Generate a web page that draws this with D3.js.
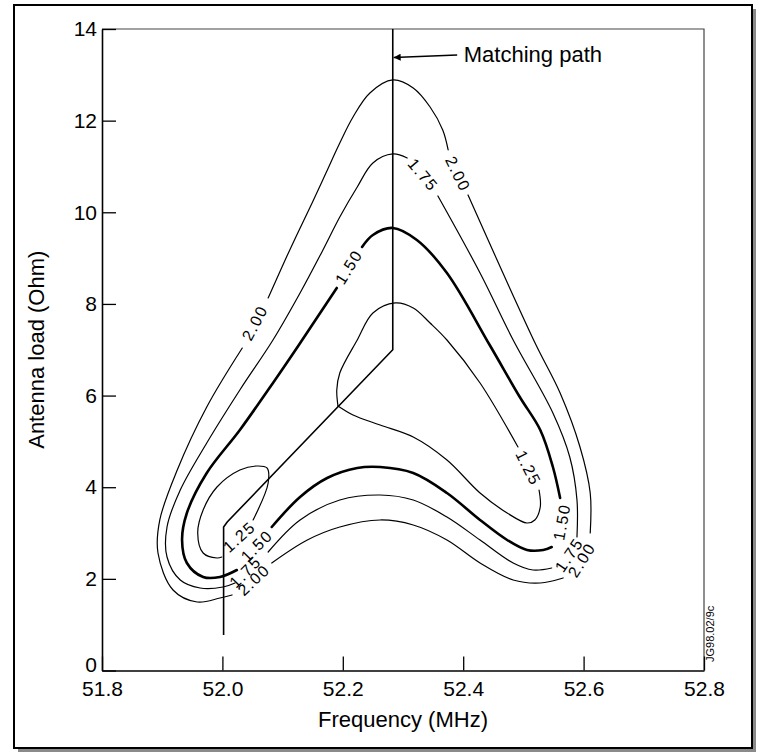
<!DOCTYPE html>
<html>
<head>
<meta charset="utf-8">
<script src="https://cdn.jsdelivr.net/npm/d3@7"></script>
<style>
  html, body { margin: 0; padding: 0; background: #fff; }
  svg { display: block; font-family: "Liberation Sans", Arial, Helvetica, sans-serif; }
</style>
</head>
<body>
<svg id="chart" width="757" height="753"></svg>
<script>
// Axis ticks
const xTicks = [51.8, 52.0, 52.2, 52.4, 52.6, 52.8];
const yTicks = [0, 2, 4, 6, 8, 10, 12, 14];

// Contour pieces: [frequency (MHz), antenna load (Ohm)]; gaps are left for the labels
const contour200 = [
  [[52.016,1.648],[51.996,1.582],[51.958,1.495],[51.918,1.757],[51.893,2.564],[51.896,3.285],
   [51.925,4.376],[51.974,5.751],[52.033,7.038]],
  [[52.076,8.130],[52.099,8.806],[52.122,9.461],[52.149,10.203],[52.172,10.858],[52.195,11.513],
   [52.217,12.080],[52.245,12.604],[52.283,12.888],[52.317,12.713],[52.345,12.298],[52.366,11.796],
   [52.375,11.360]],
  [[52.408,10.378],[52.466,8.675],[52.521,7.104],[52.561,6.056],[52.594,4.878],[52.611,3.874],
   [52.611,3.001]],
  [[52.566,2.019],[52.528,1.910],[52.483,1.975],[52.428,2.346],[52.373,2.848],[52.317,3.176],
   [52.262,3.285],[52.195,3.132],[52.141,2.848],[52.082,2.346]]
];
const contour175 = [
  [[52.021,1.910],[52.001,1.822],[51.963,1.801],[51.930,1.975],[51.908,2.477],[51.908,3.132],
   [51.930,3.939],[51.974,4.965],[52.029,6.122],[52.084,7.213],[52.129,8.239],[52.167,9.178],
   [52.195,9.898],[52.224,10.552],[52.250,11.076],[52.283,11.273],[52.307,11.185]],
  [[52.358,10.356],[52.428,8.675],[52.483,7.213],[52.549,5.620],[52.577,4.660],[52.589,3.721],
   [52.589,2.914]],
  [[52.547,2.237],[52.516,2.193],[52.483,2.346],[52.428,2.848],[52.373,3.350],[52.317,3.721],
   [52.262,3.830],[52.195,3.721],[52.129,3.285],[52.076,2.586]]
];
const contour150 = [
  [[52.024,2.193],[51.996,2.041],[51.968,2.041],[51.941,2.346],[51.933,2.848],[51.941,3.437],
   [51.974,4.310],[52.029,5.249],[52.084,6.275],[52.127,7.104],[52.190,8.348]],
  [[52.232,9.243],[52.250,9.505],[52.283,9.658],[52.323,9.396],[52.373,8.675],[52.444,7.104],
   [52.494,5.969],[52.528,5.249],[52.549,4.441],[52.561,3.765]],
  [[52.547,2.695],[52.533,2.630],[52.506,2.630],[52.473,2.848],[52.428,3.285],[52.373,3.874],
   [52.317,4.310],[52.262,4.441],[52.224,4.420],[52.174,4.201],[52.129,3.787],[52.082,3.132]]
];
const contour125 = [
  [[52.526,3.939],[52.528,3.568],[52.519,3.285],[52.506,3.219],[52.473,3.437],[52.428,3.874],
   [52.373,4.594],[52.317,5.096],[52.262,5.358],[52.217,5.576],[52.192,5.773]],
  [[52.192,5.773],[52.190,6.122],[52.195,6.493],[52.224,7.213],[52.250,7.802],[52.287,8.021],
   [52.317,7.912],[52.345,7.584],[52.373,7.213],[52.428,6.275],[52.491,4.878]],
  [[52.051,3.285],[52.076,4.092],[52.074,4.420],[52.057,4.463],[52.029,4.376],[51.991,4.005],
   [51.968,3.503],[51.959,3.001],[51.968,2.564],[51.991,2.455],[51.999,2.477]]
];
const matchingPath = [[52.283,14],[52.283,7.0],[52.008,3.241],[52.002,3.132],[52.002,0.775]];

// Contour labels: text, frequency, load, rotation (degrees)
const contourLabels = [
  ["2.00", 52.054, 7.584, -62], ["2.00", 52.391, 10.836, 64], ["2.00", 52.597, 2.412, -58],
  ["2.00", 52.052, 1.975, -43],
  ["1.75", 52.333, 10.814, 50], ["1.75", 52.576, 2.521, -56], ["1.75", 52.038, 2.150, -45],
  ["1.50", 52.210, 8.806, -58], ["1.50", 52.564, 3.241, -80], ["1.50", 52.057, 2.717, -45],
  ["1.25", 52.508, 4.420, 63], ["1.25", 52.028, 2.914, -42]
];

const svg = d3.select("#chart");

// Outer frame with drop shadow
svg.append("rect").attr("x", 18).attr("y", 9).attr("width", 738).attr("height", 743).attr("fill", "#8a8a8a");
svg.append("rect").attr("x", 14).attr("y", 5).attr("width", 738).attr("height", 743)
  .attr("fill", "#fff").attr("stroke", "#000").attr("stroke-width", 2);

const x = d3.scaleLinear().domain([51.8, 52.8]).range([102, 704]);
const y = d3.scaleLinear().domain([0, 14]).range([670.5, 29]);

// Plot box (top and right edges)
svg.append("path")
  .attr("d", `M${x(51.8)},${y(14)}H${x(52.8)}V${y(0)}`)
  .attr("fill", "none").attr("stroke", "#444").attr("stroke-width", 1.2);

const xAxis = svg.append("g").attr("transform", `translate(0,${y(0)})`)
  .call(d3.axisBottom(x).tickValues(xTicks).tickFormat(d3.format(".1f"))
        .tickSizeInner(-14).tickSizeOuter(0).tickPadding(11));
const yAxis = svg.append("g").attr("transform", `translate(${x(51.8)},0)`)
  .call(d3.axisLeft(y).tickValues(yTicks).tickFormat(d3.format("d"))
        .tickSizeInner(-14).tickSizeOuter(0).tickPadding(5));
[xAxis, yAxis].forEach(g => {
  g.select(".domain").attr("stroke", "#000").attr("stroke-width", 1.6);
  g.selectAll(".tick line").attr("stroke", "#000").attr("stroke-width", 1.3);
  g.selectAll(".tick text").attr("fill", "#000").attr("font-size", 21)
    .attr("font-family", "\"Liberation Sans\", Arial, sans-serif");
});
// the "0" label sits just above the corner
yAxis.selectAll(".tick text").filter(d => d === 0).attr("dy", "0.05em");

// Axis titles
svg.append("text").attr("x", (x(51.8) + x(52.8)) / 2).attr("y", 727)
  .attr("text-anchor", "middle").attr("font-size", 22).text("Frequency (MHz)");
svg.append("text")
  .attr("transform", `translate(44,${(y(0) + y(14)) / 2}) rotate(-90)`)
  .attr("text-anchor", "middle").attr("font-size", 22).text("Antenna load (Ohm)");

// Contour lines
const line = d3.line().x(d => x(d[0])).y(d => y(d[1])).curve(d3.curveCatmullRom.alpha(0.5));
const drawPieces = (pieces, width) => {
  svg.append("g").selectAll("path").data(pieces).join("path")
    .attr("d", line).attr("fill", "none").attr("stroke", "#000")
    .attr("stroke-width", width).attr("stroke-linecap", "round");
};
drawPieces(contour200, 1.2);
drawPieces(contour175, 1.2);
drawPieces(contour150, 2.6);
drawPieces(contour125, 1.2);

// Matching path
svg.append("path").datum(matchingPath)
  .attr("d", d3.line().x(d => x(d[0])).y(d => y(d[1])))
  .attr("fill", "none").attr("stroke", "#000").attr("stroke-width", 1.6);

// Contour labels
svg.append("g").selectAll("text").data(contourLabels).join("text")
  .attr("transform", d => `translate(${x(d[1])},${y(d[2])}) rotate(${d[3]})`)
  .attr("text-anchor", "middle").attr("dominant-baseline", "central")
  .attr("font-size", 16).attr("letter-spacing", 1.5)
  .text(d => d[0]);

// Annotation with arrow
svg.append("defs").append("marker").attr("id", "arrowhead")
  .attr("viewBox", "0 0 10 10").attr("refX", 10).attr("refY", 5)
  .attr("markerWidth", 9).attr("markerHeight", 7).attr("markerUnits", "userSpaceOnUse")
  .attr("orient", "auto")
  .append("path").attr("d", "M0,0L10,5L0,10Z").attr("fill", "#000");
svg.append("line")
  .attr("x1", x(52.390)).attr("y1", y(13.433))
  .attr("x2", x(52.2845)).attr("y2", y(13.378))
  .attr("stroke", "#000").attr("stroke-width", 1.5).attr("marker-end", "url(#arrowhead)");
svg.append("text").attr("x", x(52.401)).attr("y", y(13.27))
  .attr("font-size", 22).text("Matching path");

// Figure reference
svg.append("text").attr("transform", "translate(714,662) rotate(-90)")
  .attr("font-size", 11).text("JG98.02/9c");
</script>
</body>
</html>
